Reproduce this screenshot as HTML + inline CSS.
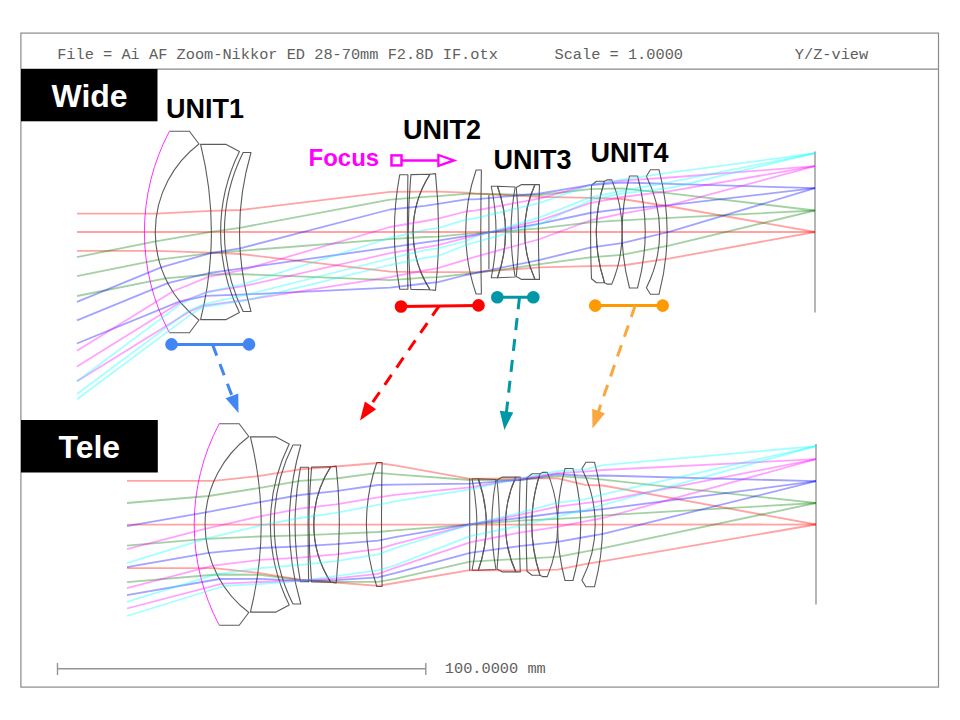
<!DOCTYPE html>
<html><head><meta charset="utf-8"><style>
html,body{margin:0;padding:0;background:#fff;width:960px;height:720px;overflow:hidden;position:relative}
.t{position:absolute;white-space:pre;line-height:1;margin:0}
.m{font-family:"Liberation Mono",monospace;font-size:15.3px;color:#606060}
.b{font-family:"Liberation Sans",sans-serif;font-weight:bold}
</style></head><body>
<svg width="960" height="720" viewBox="0 0 960 720" style="position:absolute;left:0;top:0">
<g fill="none" stroke="#8a8a8a" stroke-width="1.2">
<rect x="20.9" y="33.1" width="917.6" height="654"/>
<line x1="21" y1="69.2" x2="938.5" y2="69.2"/>
</g>
<g fill="none" stroke="#8a8a8a" stroke-width="1.2">
<path d="M57.5,668.7H425.8M57.5,663V675M425.8,663V675" stroke="#959595" stroke-width="1.4"/>
<path d="M815,151.6V312.5M816,444.1V604.5" stroke="#7a7a7a" stroke-width="1.1"/>
</g>
<g fill="none" stroke="#5c5c5c" stroke-width="1.1" stroke-linejoin="round">
<path d="M169.40,131.25L189.40,131.25L199.00,144.00A110.38,110.38 0 0 0 199.00,320.00L189.40,332.75L169.40,332.75"/>
<path d="M200.60,144.40L226.25,144.40L239.40,151.50A181.75,181.75 0 0 0 239.40,312.50L226.25,319.60L200.60,319.60A365.60,365.60 0 0 0 200.60,144.40Z"/>
<path d="M243.10,152.50L251.00,152.50A286.52,286.52 0 0 0 251.00,311.50L243.10,311.50A178.34,178.34 0 0 1 243.10,152.50Z"/>
<path d="M399.70,174.80L407.90,174.80A3272.09,3272.09 0 0 0 407.90,289.20L399.70,289.20A311.31,311.31 0 0 1 399.70,174.80Z"/>
<path d="M410.90,174.60L430.00,174.30A106.95,106.95 0 0 0 430.00,289.70L410.90,289.40A634.91,634.91 0 0 1 410.90,174.60Z"/>
<path d="M430.00,174.30L435.50,173.60A551.64,551.64 0 0 1 435.50,290.40L430.00,289.70A106.95,106.95 0 0 1 430.00,174.30Z"/>
<path d="M476.10,170.00L481.40,170.00A3203.63,3203.63 0 0 0 481.40,294.00L476.10,294.00A190.01,190.01 0 0 1 476.10,170.00Z"/>
<path d="M491.25,186.25L497.50,186.25A138.07,138.07 0 0 1 497.50,277.75L491.25,277.75A222.70,222.70 0 0 0 491.25,186.25Z"/>
<path d="M497.50,186.25L515.20,187.00A249.00,249.00 0 0 0 515.20,277.00L497.50,277.75A138.07,138.07 0 0 0 497.50,186.25Z"/>
<path d="M516.25,187.50L521.70,184.60L535.00,184.60A114.22,114.22 0 0 0 535.00,279.40L521.70,279.40L516.25,276.50A422.50,422.50 0 0 0 516.25,187.50Z"/>
<path d="M535.00,184.60L539.50,184.60A1021.80,1021.80 0 0 0 539.50,279.40L535.00,279.40A114.22,114.22 0 0 1 535.00,184.60Z"/>
<path d="M591.50,185.30L596.50,181.20L604.50,181.20A165.29,165.29 0 0 0 604.50,282.80L596.50,282.80L591.50,278.70A1212.06,1212.06 0 0 1 591.50,185.30Z"/>
<path d="M604.50,181.20L607.00,179.90L611.80,179.90A135.70,135.70 0 0 1 611.80,284.10L607.00,284.10L604.50,282.80A165.29,165.29 0 0 1 604.50,181.20Z"/>
<path d="M629.50,176.00L637.50,176.00A210.12,210.12 0 0 1 637.50,288.00L629.50,288.00A218.44,218.44 0 0 1 629.50,176.00Z"/>
<path d="M646.40,176.30L650.40,169.70L659.00,169.70A246.58,246.58 0 0 1 659.00,294.30L650.40,294.30L646.40,287.70A123.28,123.28 0 0 0 646.40,176.30Z"/>
<path d="M488.90,195.00V269.00"/>
<path d="M219.20,423.75L239.20,423.75L248.80,436.50A110.38,110.38 0 0 0 248.80,612.50L239.20,625.25L219.20,625.25"/>
<path d="M250.40,436.90L276.05,436.90L289.20,444.00A181.75,181.75 0 0 0 289.20,605.00L276.05,612.10L250.40,612.10A365.60,365.60 0 0 0 250.40,436.90Z"/>
<path d="M292.90,445.00L300.80,445.00A286.52,286.52 0 0 0 300.80,604.00L292.90,604.00A178.34,178.34 0 0 1 292.90,445.00Z"/>
<path d="M300.40,467.30L308.60,467.30A3272.09,3272.09 0 0 0 308.60,581.70L300.40,581.70A311.31,311.31 0 0 1 300.40,467.30Z"/>
<path d="M311.60,467.10L330.70,466.80A106.95,106.95 0 0 0 330.70,582.20L311.60,581.90A634.91,634.91 0 0 1 311.60,467.10Z"/>
<path d="M330.70,466.80L336.20,466.10A551.64,551.64 0 0 1 336.20,582.90L330.70,582.20A106.95,106.95 0 0 1 330.70,466.80Z"/>
<path d="M376.80,462.50L382.10,462.50A3203.63,3203.63 0 0 0 382.10,586.50L376.80,586.50A190.01,190.01 0 0 1 376.80,462.50Z"/>
<path d="M472.05,478.75L478.30,478.75A138.07,138.07 0 0 1 478.30,570.25L472.05,570.25A222.70,222.70 0 0 0 472.05,478.75Z"/>
<path d="M478.30,478.75L496.00,479.50A249.00,249.00 0 0 0 496.00,569.50L478.30,570.25A138.07,138.07 0 0 0 478.30,478.75Z"/>
<path d="M497.05,480.00L502.50,477.10L515.80,477.10A114.22,114.22 0 0 0 515.80,571.90L502.50,571.90L497.05,569.00A422.50,422.50 0 0 0 497.05,480.00Z"/>
<path d="M515.80,477.10L520.30,477.10A1021.80,1021.80 0 0 0 520.30,571.90L515.80,571.90A114.22,114.22 0 0 1 515.80,477.10Z"/>
<path d="M527.00,477.80L532.00,473.70L540.00,473.70A165.29,165.29 0 0 0 540.00,575.30L532.00,575.30L527.00,571.20A1212.06,1212.06 0 0 1 527.00,477.80Z"/>
<path d="M540.00,473.70L542.50,472.40L547.30,472.40A135.70,135.70 0 0 1 547.30,576.60L542.50,576.60L540.00,575.30A165.29,165.29 0 0 1 540.00,473.70Z"/>
<path d="M565.00,468.50L573.00,468.50A210.12,210.12 0 0 1 573.00,580.50L565.00,580.50A218.44,218.44 0 0 1 565.00,468.50Z"/>
<path d="M581.90,468.80L585.90,462.20L594.50,462.20A246.58,246.58 0 0 1 594.50,586.80L585.90,586.80L581.90,580.20A123.28,123.28 0 0 0 581.90,468.80Z"/>
<path d="M469.70,478.30V570.70"/>
</g>
<g fill="none" stroke="#ff30ff" stroke-width="1.0">
<path d="M169.40,131.25A215.51,215.51 0 0 0 169.40,332.75"/>
<path d="M219.20,423.75A215.51,215.51 0 0 0 219.20,625.25"/>
</g>
<g fill="none" stroke-width="1.8" stroke-linejoin="round" stroke-opacity="0.36">
<g id="rays"><path stroke="#ff0000" d="M77.0,213.6 156.8,213.6 211.0,210.9 240.6,210.0 390.0,191.9 425.0,191.7 438.0,191.7 466.0,192.6 475.0,193.3 540.0,196.9 590.0,197.9 622.0,199.0 670.0,206.5 815.0,232.0"/>
<path stroke="#ff0000" d="M77.0,232.0 155.2,232.0 239.8,232.0 390.0,232.0 425.0,232.0 438.0,232.0 466.0,232.0 475.0,232.0 540.0,232.0 590.0,232.0 622.0,232.0 670.0,232.0 815.0,232.0"/>
<path stroke="#ff0000" d="M77.0,250.8 156.9,250.8 211.0,252.7 240.6,254.0 390.0,271.7 425.0,272.2 438.0,272.2 466.0,272.2 475.0,272.2 540.0,267.4 590.0,266.2 622.0,265.5 670.0,258.4 815.0,232.0"/>
<path stroke="#008000" d="M77.0,257.1 155.6,241.4 211.0,231.8 239.8,227.8 390.0,199.6 425.0,196.9 438.0,196.2 466.0,193.9 475.0,193.9 540.0,195.0 590.0,189.2 622.0,188.3 670.0,193.4 815.0,210.5"/>
<path stroke="#008000" d="M77.0,276.1 158.8,259.7 211.0,253.2 240.4,250.8 390.0,239.2 425.0,237.0 438.0,236.6 466.0,233.9 475.0,233.4 540.0,228.3 590.0,222.3 622.0,220.4 670.0,217.8 815.0,210.5"/>
<path stroke="#008000" d="M77.0,296.0 165.4,278.3 209.2,274.5 242.9,274.2 390.0,280.2 425.0,277.6 438.0,277.2 466.0,274.0 475.0,273.1 540.0,264.2 590.0,257.4 622.0,254.8 670.0,245.3 815.0,210.5"/>
<path stroke="#0000ff" d="M77.0,301.9 161.1,267.4 211.0,253.0 240.2,248.3 390.0,209.5 425.0,205.9 438.0,203.8 466.0,199.3 475.0,199.3 540.0,193.5 590.0,185.1 622.0,182.5 670.0,183.9 815.0,188.2"/>
<path stroke="#0000ff" d="M77.0,320.4 167.8,283.2 209.2,273.0 242.1,268.3 390.0,247.4 425.0,242.4 438.0,240.6 466.0,236.1 475.0,234.8 540.0,223.7 590.0,213.0 622.0,208.8 670.0,205.1 815.0,188.2"/>
<path stroke="#0000ff" d="M77.0,343.5 179.8,301.4 206.3,295.9 246.6,294.4 390.0,287.6 425.0,283.5 438.0,282.2 466.0,275.0 475.0,273.1 540.0,259.8 590.0,247.7 622.0,243.1 670.0,231.7 815.0,188.2"/>
<path stroke="#ff00ff" d="M77.0,350.8 172.7,291.5 208.2,276.9 242.3,270.1 390.0,227.0 425.0,221.0 438.0,218.7 466.0,211.5 475.0,210.6 540.0,198.4 590.0,184.8 622.0,180.6 670.0,177.5 815.0,166.2"/>
<path stroke="#ff00ff" d="M77.0,366.5 180.5,302.3 206.7,292.0 244.9,285.9 390.0,253.2 425.0,247.4 438.0,245.1 466.0,237.9 475.0,235.7 540.0,220.3 590.0,203.2 622.0,197.0 670.0,191.2 815.0,166.2"/>
<path stroke="#ff00ff" d="M77.0,381.2 189.2,311.7 203.8,305.6 247.8,299.6 390.0,277.2 425.0,270.4 438.0,268.2 466.0,259.6 475.0,256.9 540.0,239.0 590.0,220.5 622.0,213.6 670.0,205.1 815.0,166.2"/>
<path stroke="#00ffff" d="M77.0,381.2 181.5,303.4 206.3,292.5 244.5,283.9 390.0,238.0 425.0,230.0 438.0,228.2 466.0,219.6 475.0,218.3 540.0,202.8 590.0,185.1 622.0,179.6 670.0,172.7 815.0,153.2"/>
<path stroke="#00ffff" d="M77.0,394.0 188.5,310.9 204.3,304.1 246.7,294.7 390.0,258.5 425.0,250.1 438.0,248.3 466.0,241.0 475.0,236.6 540.0,217.3 590.0,197.4 622.0,191.0 670.0,182.2 815.0,153.2"/>
<path stroke="#00ffff" d="M77.0,399.3 191.6,313.9 203.3,307.0 247.9,300.0 390.0,265.0 425.0,257.8 438.0,256.0 466.0,245.0 475.0,242.4 540.0,224.0 590.0,200.5 622.0,193.5 670.0,188.0 815.0,153.2"/>
<path stroke="#ff0000" d="M127.0,480.9 214.0,480.9 260.0,475.9 300.0,469.3 336.0,466.5 378.0,463.0 395.0,465.4 470.0,478.8 519.5,478.4 557.7,478.4 585.0,484.8 603.0,485.5 816.0,524.5"/>
<path stroke="#ff0000" d="M127.0,524.6 205.1,524.6 260.0,524.6 300.0,524.6 336.0,524.6 378.0,524.6 395.0,524.6 470.0,524.6 519.5,524.6 557.7,524.6 585.0,524.6 603.0,524.6 816.0,524.5"/>
<path stroke="#ff0000" d="M127.0,568.1 214.0,568.1 260.0,573.1 300.0,579.7 336.0,582.5 378.0,585.9 395.0,583.0 470.0,570.2 519.5,570.5 557.7,569.6 585.0,564.2 603.0,561.1 816.0,524.5"/>
<path stroke="#008000" d="M127.0,503.0 208.8,496.0 260.0,487.9 300.0,480.8 336.0,478.5 378.0,472.8 395.0,474.3 470.0,480.0 519.5,480.0 557.7,476.0 585.0,477.9 603.0,479.6 816.0,503.0"/>
<path stroke="#008000" d="M127.0,545.6 206.0,538.8 260.0,536.5 300.0,535.4 336.0,533.8 378.0,532.0 395.0,530.4 470.0,524.6 519.5,520.6 557.7,518.8 585.0,517.3 603.0,515.4 816.0,503.0"/>
<path stroke="#008000" d="M127.0,582.2 217.0,574.5 260.0,574.8 300.0,580.0 336.0,581.9 378.0,581.9 395.0,578.9 470.0,561.7 519.5,558.9 557.7,556.9 585.0,551.6 603.0,548.2 816.0,503.0"/>
<path stroke="#0000ff" d="M127.0,526.2 205.7,512.3 260.0,502.1 300.0,495.0 336.0,491.1 378.0,485.0 395.0,484.7 470.0,483.6 519.5,480.0 557.7,474.0 585.0,475.8 603.0,475.5 816.0,481.2"/>
<path stroke="#0000ff" d="M127.0,567.2 208.8,552.9 260.0,548.0 300.0,546.3 336.0,544.1 378.0,540.6 395.0,537.2 470.0,524.2 519.5,518.0 557.7,513.0 585.0,511.0 603.0,509.2 816.0,481.2"/>
<path stroke="#0000ff" d="M127.0,595.2 219.4,579.0 260.0,578.8 300.0,580.8 336.0,580.2 378.0,577.3 395.0,573.1 470.0,552.8 519.5,546.2 557.7,541.8 585.0,537.0 603.0,533.9 816.0,481.2"/>
<path stroke="#ff00ff" d="M127.0,549.1 205.1,528.8 260.0,516.3 300.0,508.7 336.0,504.3 378.0,497.4 395.0,494.8 470.0,487.3 519.5,479.0 557.7,473.1 585.0,471.7 603.0,470.0 816.0,459.2"/>
<path stroke="#ff00ff" d="M127.0,588.1 213.0,565.7 260.0,559.8 300.0,557.6 336.0,554.4 378.0,549.2 395.0,544.2 470.0,524.7 519.5,514.9 557.7,506.6 585.0,503.2 603.0,501.0 816.0,459.2"/>
<path stroke="#ff00ff" d="M127.0,608.5 222.3,583.7 260.0,582.0 300.0,580.5 336.0,578.4 378.0,573.9 395.0,567.9 470.0,542.4 519.5,532.6 557.7,526.8 585.0,521.4 603.0,518.0 816.0,459.2"/>
<path stroke="#00ffff" d="M127.0,563.1 206.0,538.6 260.0,525.6 300.0,518.0 336.0,512.9 378.0,504.8 395.0,501.4 470.0,489.4 519.5,478.4 557.7,471.1 585.0,469.6 603.0,465.2 816.0,446.2"/>
<path stroke="#00ffff" d="M127.0,601.9 216.8,574.1 260.0,568.2 300.0,565.0 336.0,561.2 378.0,554.4 395.0,548.1 470.0,524.7 519.5,512.8 557.7,502.7 585.0,499.3 603.0,494.4 816.0,446.2"/>
<path stroke="#00ffff" d="M127.0,616.0 223.8,586.0 260.0,584.0 300.0,580.8 336.0,576.1 378.0,570.4 395.0,565.3 470.0,536.1 519.5,525.8 557.7,516.4 585.0,510.0 603.0,504.8 816.0,446.2"/></g>
</g>
<rect x="21" y="69" width="136.5" height="52.3" fill="#000"/>
<rect x="21" y="420" width="136.8" height="52.5" fill="#000"/>
<line x1="171.5" y1="344.4" x2="249" y2="344.4" stroke="#4285f4" stroke-width="3"/><circle cx="171.5" cy="344.4" r="6.3" fill="#4285f4"/><circle cx="249" cy="344.4" r="6.3" fill="#4285f4"/><line x1="212.5" y1="344.4" x2="232.66" y2="397.67" stroke="#4285f4" stroke-width="3" stroke-dasharray="12,9"/><path d="M238.5,413.1L225.59,398.20L238.31,393.39Z" fill="#4285f4"/>
<line x1="401" y1="306.5" x2="478.5" y2="305.4" stroke="#ff0000" stroke-width="3"/><circle cx="401" cy="306.5" r="6.3" fill="#ff0000"/><circle cx="478.5" cy="305.4" r="6.3" fill="#ff0000"/><line x1="439.2" y1="305.8" x2="369.37" y2="407.02" stroke="#ff0000" stroke-width="3" stroke-dasharray="12,9"/><path d="M360,420.6L364.91,401.51L376.10,409.23Z" fill="#ff0000"/>
<line x1="497.3" y1="297.3" x2="533.3" y2="297.3" stroke="#0097a7" stroke-width="3"/><circle cx="497.3" cy="297.3" r="6.3" fill="#0097a7"/><circle cx="533.3" cy="297.3" r="6.3" fill="#0097a7"/><line x1="519.5" y1="297.3" x2="506.27" y2="413.61" stroke="#0097a7" stroke-width="3" stroke-dasharray="12,9"/><path d="M504.4,430L499.74,410.85L513.25,412.39Z" fill="#0097a7"/>
<line x1="595.2" y1="305.6" x2="662.7" y2="305.6" stroke="#ff9900" stroke-width="3"/><circle cx="595.2" cy="305.6" r="6.3" fill="#ff9900"/><circle cx="662.7" cy="305.6" r="6.3" fill="#ff9900"/><line x1="635.2" y1="305.6" x2="597.92" y2="412.91" stroke="#f9a73e" stroke-width="3" stroke-dasharray="12,9"/><path d="M592.5,428.5L592.15,408.79L604.99,413.26Z" fill="#f9a73e"/>
<g fill="none" stroke="#ff00ff" stroke-width="2.5">
<rect x="391.5" y="155.4" width="10" height="10"/>
<path d="M401.5,160.4H438.4"/>
<path d="M438.4,155L454,160.4L438.4,165.8Z" stroke-width="2.3" stroke-linejoin="miter"/>
</g>
</svg>
<div class="t m" style="left:57.2px;top:47.5px">File = Ai AF Zoom-Nikkor ED 28-70mm F2.8D IF.otx</div>
<div class="t m" style="left:554.5px;top:47.5px">Scale = 1.0000</div>
<div class="t m" style="left:794.8px;top:47.5px">Y/Z-view</div>
<div class="t m" style="left:444.8px;top:661.5px">100.0000 mm</div>
<div class="t b" style="left:51.5px;top:80px;font-size:32px;color:#fff">Wide</div>
<div class="t b" style="left:58.5px;top:431px;font-size:32px;color:#fff">Tele</div>
<div class="t b" style="left:166px;top:95.5px;font-size:27px;color:#000">UNIT1</div>
<div class="t b" style="left:403px;top:116.5px;font-size:27px;color:#000">UNIT2</div>
<div class="t b" style="left:493.5px;top:147px;font-size:27px;color:#000">UNIT3</div>
<div class="t b" style="left:590.5px;top:140px;font-size:27px;color:#000">UNIT4</div>
<div class="t b" style="left:308.5px;top:146px;font-size:24px;color:#ff00ff">Focus</div>
</body></html>
